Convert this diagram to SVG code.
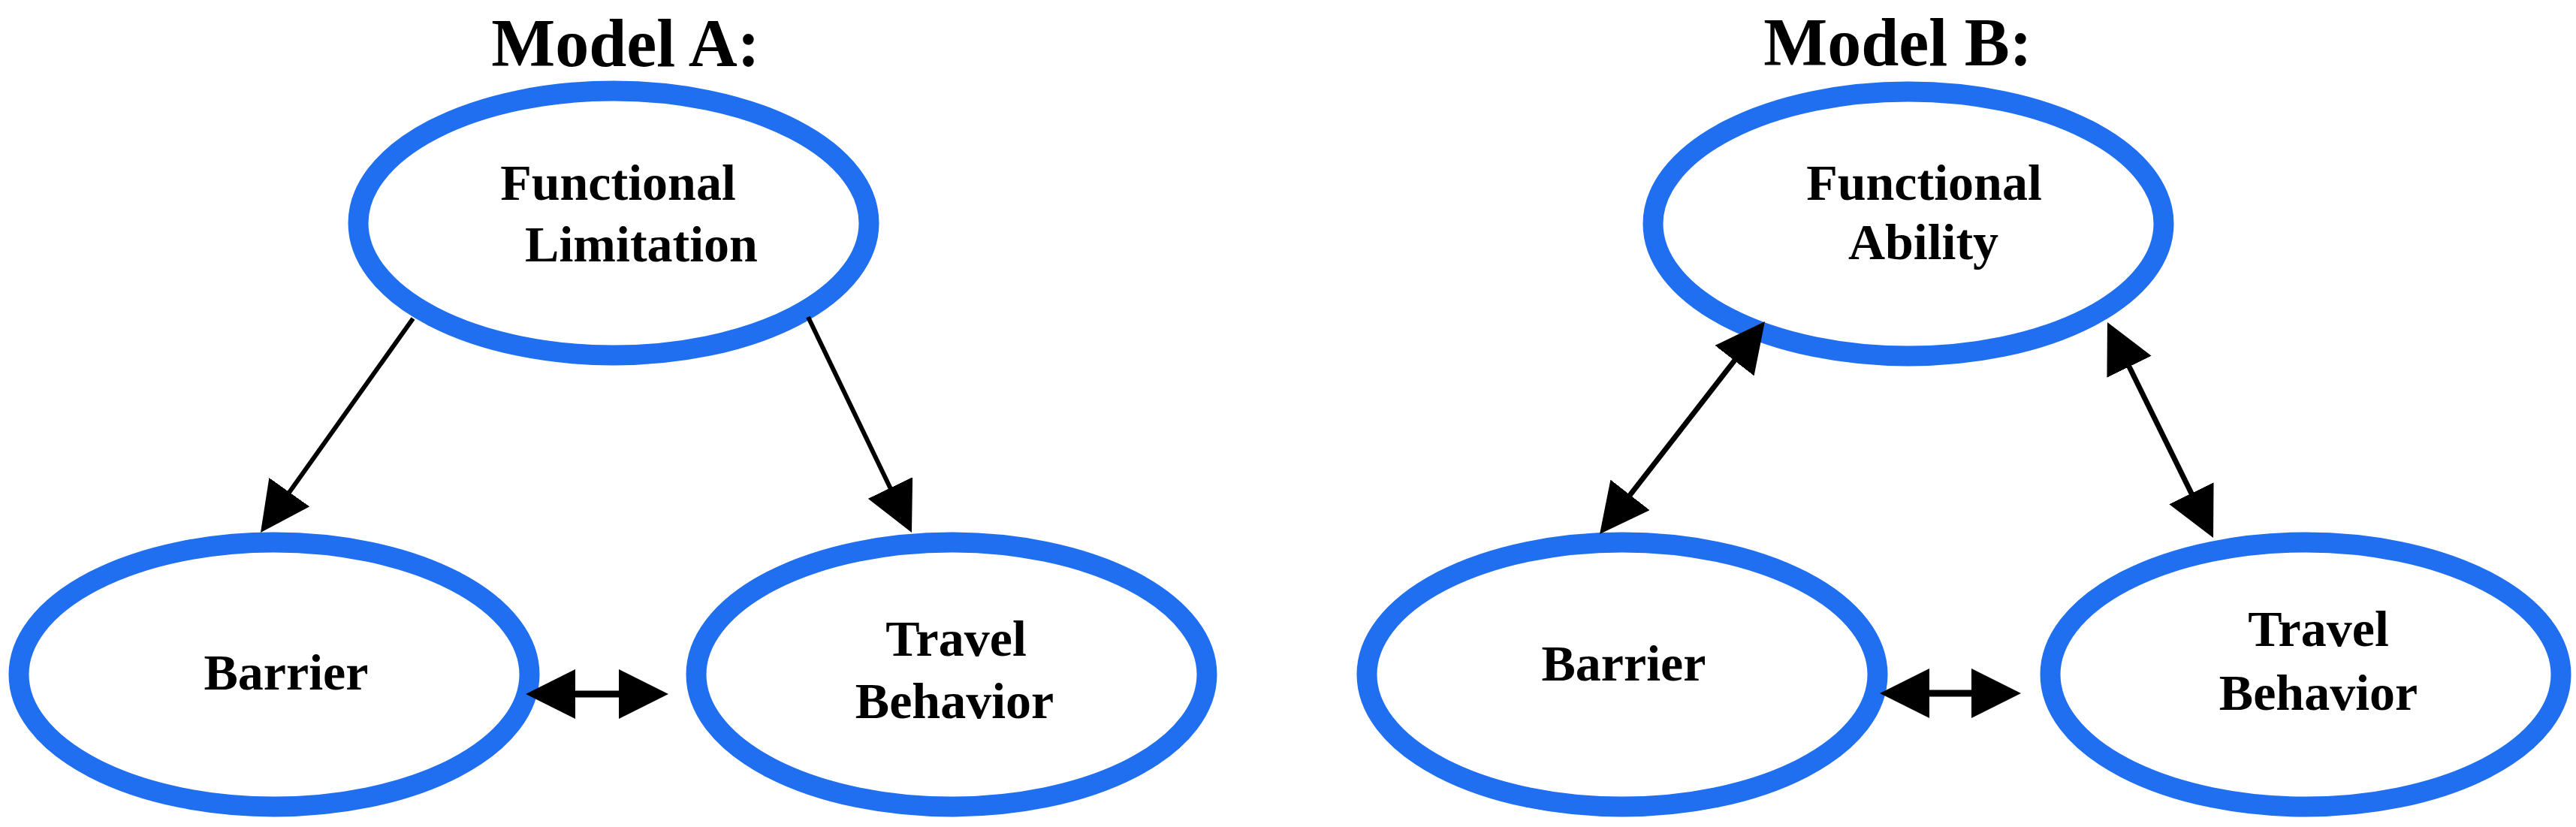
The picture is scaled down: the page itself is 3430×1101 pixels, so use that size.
<svg xmlns="http://www.w3.org/2000/svg" width="3430" height="1101" viewBox="0 0 3430 1101">
<style>
.node ellipse{fill:#ffffff;stroke:#1f6ff0;stroke-width:27}
text{font-family:"Liberation Serif","Times New Roman",serif;font-weight:bold;fill:#000;text-anchor:middle}
.lbl{font-size:68px}
.title{font-size:90px}
.conn line{stroke:#000;fill:none}
</style>
<defs>
<marker id="ah" markerUnits="userSpaceOnUse" viewBox="0 0 66 66" markerWidth="66" markerHeight="66" refX="46" refY="33" orient="auto-start-reverse">
<path d="M0,0 L66,33 L0,66 Z" fill="#000"/>
</marker>
</defs>
<rect width="3430" height="1101" fill="#ffffff"/>
<text class="title" x="833" y="88">Model A:</text>
<text class="title" x="2527" y="87">Model B:</text>
<g id="a-functional-limitation" class="node">
<ellipse cx="817" cy="297" rx="340" ry="176"/>
<text class="lbl" x="823" y="266">Functional</text>
<text class="lbl" x="854" y="348">Limitation</text>
</g>
<g id="a-barrier" class="node">
<ellipse cx="365" cy="898" rx="340" ry="176"/>
<text class="lbl" x="381" y="918">Barrier</text>
</g>
<g id="a-travel-behavior" class="node">
<ellipse cx="1267" cy="898" rx="340" ry="176"/>
<text class="lbl" x="1273" y="873">Travel</text>
<text class="lbl" x="1271" y="956">Behavior</text>
</g>
<g id="b-functional-ability" class="node">
<ellipse cx="2541" cy="298" rx="340" ry="176"/>
<text class="lbl" x="2562" y="266">Functional</text>
<text class="lbl" x="2561" y="345">Ability</text>
</g>
<g id="b-barrier" class="node">
<ellipse cx="2160" cy="898" rx="340" ry="176"/>
<text class="lbl" x="2162" y="906">Barrier</text>
</g>
<g id="b-travel-behavior" class="node">
<ellipse cx="3070" cy="898" rx="340" ry="176"/>
<text class="lbl" x="3087" y="860">Travel</text>
<text class="lbl" x="3087" y="945">Behavior</text>
</g>
<g id="connectors" class="conn">
<line x1="550" y1="424" x2="358.6" y2="692.7" stroke-width="6" marker-end="url(#ah)"/>
<line x1="1076" y1="422" x2="1205.3" y2="691" stroke-width="6" marker-end="url(#ah)"/>
<line x1="720" y1="924" x2="870" y2="924" stroke-width="9" marker-start="url(#ah)" marker-end="url(#ah)"/>
<line x1="2337.7" y1="443.8" x2="2142.3" y2="695.2" stroke-width="7" marker-start="url(#ah)" marker-end="url(#ah)"/>
<line x1="2814.8" y1="446.9" x2="2938.2" y2="698.1" stroke-width="7" marker-start="url(#ah)" marker-end="url(#ah)"/>
<line x1="2523" y1="923" x2="2671" y2="923" stroke-width="9" marker-start="url(#ah)" marker-end="url(#ah)"/>
</g>
</svg>
